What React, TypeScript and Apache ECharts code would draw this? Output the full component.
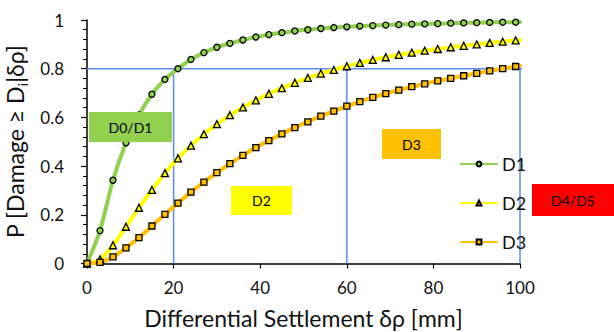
import React, { useEffect, useRef } from "react";
import * as echarts from "echarts";

const settlement = [0, 3, 6, 9, 12, 15, 18, 21, 24, 27, 30, 33, 36, 39, 42, 45, 48, 51, 54, 57, 60, 63, 66, 69, 72, 75, 78, 81, 84, 87, 90, 93, 96, 99, 100];
const d1 = [0, 0.135, 0.342, 0.496, 0.61, 0.695, 0.756, 0.8, 0.838, 0.866, 0.888, 0.904, 0.918, 0.93, 0.94, 0.948, 0.955, 0.96, 0.965, 0.969, 0.972, 0.975, 0.977, 0.979, 0.981, 0.983, 0.984, 0.985, 0.987, 0.988, 0.989, 0.99, 0.991, 0.991, 0.992];
const d2 = [0, 0.017, 0.075, 0.151, 0.229, 0.302, 0.371, 0.432, 0.484, 0.531, 0.572, 0.609, 0.641, 0.67, 0.697, 0.72, 0.742, 0.762, 0.78, 0.795, 0.81, 0.824, 0.836, 0.847, 0.857, 0.866, 0.874, 0.881, 0.888, 0.894, 0.9, 0.906, 0.911, 0.916, 0.917];
const d3 = [0, 0.005, 0.027, 0.064, 0.106, 0.154, 0.202, 0.248, 0.293, 0.334, 0.373, 0.41, 0.444, 0.476, 0.505, 0.532, 0.558, 0.582, 0.605, 0.626, 0.646, 0.665, 0.682, 0.698, 0.712, 0.726, 0.738, 0.75, 0.76, 0.771, 0.781, 0.791, 0.8, 0.809, 0.812];

const seriesNames = ["D1", "D2", "D3"];
const refLevel = 0.8;
const refXs = [20, 60, 100];
const refHorizontalEnd = 102.7;
const zoneLabels = ["D0/D1", "D2", "D3", "D4/D5"];

const FONT = "Lato";
const colors = ["#92D050", "#FFFF00", "#FFC000"];
const symbols = ["circle", "triangle", "rect"];
const symbolSizes = [6, 7, 6];
const BLUE = "#5B8DEF";

export default function App() {
  const ref = useRef<HTMLDivElement>(null);
  useEffect(() => {
    if (!ref.current) return;
    const chart = echarts.init(ref.current, null, { renderer: "svg" });
    const curves = [d1, d2, d3].map((arr, i) => ({
      name: seriesNames[i],
      type: "line",
      smooth: 0.3,
      z: 3,
      data: settlement.map((x, j) =>
        j === settlement.length - 1
          ? { value: [x, arr[j]], symbol: "none" }
          : [x, arr[j]]
      ),
      symbol: symbols[i],
      symbolSize: symbolSizes[i],
      showAllSymbol: true,
      lineStyle: { color: colors[i], width: 4, cap: "round" },
      itemStyle: { color: colors[i], borderColor: "#000", borderWidth: 1.3 },
    }));
    const refLines: any[] = [
      {
        name: "refH",
        type: "line",
        clip: false,
        z: 2,
        symbol: "none",
        data: [
          [0, refLevel],
          [refHorizontalEnd, refLevel],
        ],
        lineStyle: { color: BLUE, width: 1.5 },
      },
      ...refXs.map((x) => ({
        name: "refV" + x,
        type: "line",
        z: 2,
        clip: false,
        symbol: "none",
        data: [
          [x, 0],
          [x, refLevel],
        ],
        lineStyle: { color: BLUE, width: 1.5 },
      })),
    ];
    const boxes = [
      { x: 89, y: 112, w: 83, h: 30, fill: "#92D050" },
      { x: 231, y: 186, w: 61, h: 29, fill: "#FFFF00" },
      { x: 382, y: 129, w: 59, h: 30, fill: "#FFC000" },
      { x: 532, y: 184, w: 82, h: 32, fill: "#FF0000" },
    ];
    chart.setOption({
      animation: false,
      textStyle: { fontFamily: FONT },
      grid: { left: 87, right: 94, top: 20, bottom: 68.5, containLabel: false, outerBoundsMode: "none" },
      legend: {
        data: seriesNames,
        orient: "vertical",
        left: 455,
        top: 150,
        itemWidth: 36,
        itemHeight: 6,
        itemGap: 21,
        textStyle: { fontSize: 18, color: "#111", fontFamily: FONT },
      },
      xAxis: {
        type: "value",
        min: 0,
        max: 100,
        interval: 20,
        name: "Differential Settlement δρ [mm]",
        nameLocation: "middle",
        nameGap: 43,
        nameTextStyle: { fontSize: 23, color: "#111", fontFamily: FONT },
        axisLine: { lineStyle: { color: "#000", width: 1.5 } },
        axisTick: { length: 5, lineStyle: { color: "#000", width: 1.2 } },
        axisLabel: { fontSize: 17, color: "#111", margin: 15, fontFamily: FONT },
        splitLine: { show: false },
      },
      yAxis: {
        type: "value",
        min: 0,
        max: 1,
        interval: 0.2,
        name: "P [Damage ≥ D{sub|i}|δρ]",
        nameLocation: "middle",
        nameGap: 50,
        nameTextStyle: {
          fontSize: 23,
          color: "#111",
          fontFamily: FONT,
          lineHeight: 28,
          rich: { sub: { fontSize: 14, lineHeight: 14, verticalAlign: "bottom", fontFamily: FONT, color: "#111" } },
        },
        axisLine: { show: true, lineStyle: { color: "#000", width: 1.5 } },
        axisTick: { show: true, length: 6, lineStyle: { color: "#000", width: 1.2 } },
        minorTick: { show: true, splitNumber: 5, length: 4, lineStyle: { color: "#000", width: 1 } },
        axisLabel: { fontSize: 17, color: "#111", margin: 23, fontFamily: FONT },
        splitLine: { show: false },
      },
      series: [...refLines, ...curves],
      graphic: boxes.flatMap((b, i) => [
        {
          type: "rect",
          z: 100,
          shape: { x: b.x, y: b.y, width: b.w, height: b.h },
          style: { fill: b.fill },
        },
        {
          type: "text",
          z: 101,
          x: b.x + b.w / 2,
          y: b.y + b.h / 2,
          style: {
            text: zoneLabels[i],
            fill: "#000",
            font: `14px ${FONT}`,
            textAlign: "center",
            textVerticalAlign: "middle",
          },
        },
      ]),
    });
    return () => chart.dispose();
  }, []);
  return (
    <div
      ref={ref}
      style={{ position: "absolute", left: 0, top: 0, width: 614, height: 332, background: "#fff" }}
    />
  );
}
